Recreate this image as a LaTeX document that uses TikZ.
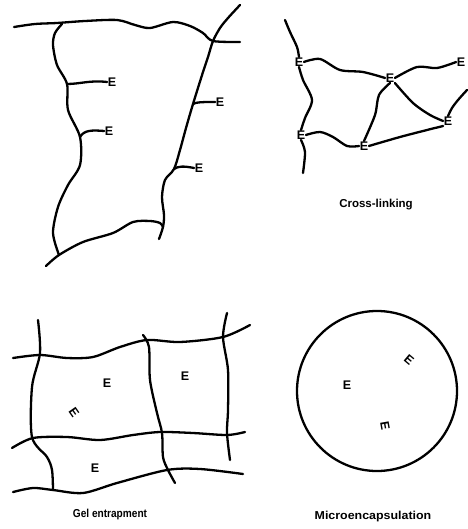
\documentclass[tikz,border=0pt]{standalone}
\usepackage{fontspec}
\newfontfamily\labfont{Liberation Sans}
\begin{document}
\begin{tikzpicture}[x=1pt,y=-1pt,
  fibre/.style={line width=2.3pt, line cap=round, line join=round},
  enz/.style={font=\labfont\bfseries\fontsize{12.5}{12.5}\selectfont, inner sep=0.5pt},
  captxt/.style={font=\labfont\bfseries\fontsize{11.5}{12}\selectfont, inner sep=0pt}]
\useasboundingbox (0,0) rectangle (467,529);

% ---------- Panel 1 ----------
\coordinate (p1a) at (67,84);
\coordinate (p1b) at (80,137);
\coordinate (p1c) at (193,104);
\coordinate (p1d) at (174,169);
\node[enz] (a1) at (112,82) {E};
\node[enz] (a2) at (109,131) {E};
\node[enz] (a3) at (220,102) {E};
\node[enz] (a4) at (199,168) {E};
\draw[fibre] plot[smooth] coordinates {(14,27) (35,24) (57,23) (85,21) (117,20) (135,25) (150,28) (173,22) (190,26) (203,33) (213,41) (240,42)};
\draw[fibre] plot[smooth] coordinates {(240,5) (228,18) (220,28) (213,41) (208,57) (203,72) (193,104) (186,128) (180,150) (174,169) (165,180) (162,197) (164,215) (163,227) (159,239)};
\draw[fibre] plot[smooth] coordinates {(62,24) (55,33) (53,45) (57,65) (67,84) (68,110) (80,137) (80,165) (68,185) (58,207) (53,233) (59,255)};
\draw[fibre] plot[smooth] coordinates {(46,266) (59,255) (83,242) (113,233) (133,222) (150,221) (160,223) (163,227)};
\draw[fibre] (p1a) .. controls (80,84) and (90,80) .. (a1.west);
\draw[fibre] (p1b) .. controls (84,130) and (92,130) .. (a2.west);
\draw[fibre] (p1c) .. controls (196,102) and (204,102) .. (a3.west);
\draw[fibre] (p1d) .. controls (178,166) and (184,166) .. (a4.west);

% ---------- Panel 2: Cross-linking ----------
\node[enz] (c1) at (299,62) {E};
\node[enz] (c2) at (301,135) {E};
\node[enz] (c3) at (390,78) {E};
\node[enz] (c4) at (461,62) {E};
\node[enz] (c5) at (448,121) {E};
\node[enz] (c6) at (364,146) {E};
\coordinate (c1t) at (285,20);
\coordinate (c2b) at (303,173);
\coordinate (c4r) at (467,90);
\draw[fibre] plot[smooth] coordinates {(c1t) (290,32) (297,47) (c1.north)};
\draw[fibre] plot[smooth] coordinates {(c1.south) (303,80) (312,100) (305,118) (c2.north)};
\draw[fibre] plot[smooth] coordinates {(c2.south) (305,152) (c2b)};
\draw[fibre] plot[smooth] coordinates {(c1.east) (320,59) (340,70) (363,72) (c3.west)};
\draw[fibre] plot[smooth] coordinates {(c3.east) (417,67) (437,68) (c4.west)};
\draw[fibre] plot[smooth] coordinates {(c4r) (458,100) (452,108) (c5.north)};
\draw[fibre] plot[smooth] coordinates {(c3.south east) (413,103) (430,115) (c5.west)};
\draw[fibre] plot[smooth] coordinates {(c3.south) (379,95) (375,115) (c6.north)};
\draw[fibre] plot[smooth] coordinates {(c2.east) (320,132) (333,137) (347,146) (c6.west)};
\draw[fibre] plot[smooth] coordinates {(c6.east) (400,137) (427,130) (c5.south west)};
\node[captxt] (t2) at (376,205) {Cross-linking};

% ---------- Panel 3: Gel entrapment ----------
\draw[fibre] plot[smooth] coordinates {(13,358) (40,355) (67,358) (93,357) (120,347) (147,340) (180,342) (223,337) (250,325)};
\draw[fibre] plot[smooth] coordinates {(12,448) (33,438) (67,437) (100,440) (133,435) (160,432) (193,433) (227,435) (245,432)};
\draw[fibre] plot[smooth] coordinates {(13,492) (33,488) (53,490) (83,493) (117,483) (167,470) (200,469) (243,474)};
\draw[fibre] plot[smooth] coordinates {(38,320) (40,353) (32,387) (32,437) (47,457) (52,470) (53,490)};
\draw[fibre] plot[smooth] coordinates {(143,335) (149,347) (150,380) (157,413) (162,433) (163,457) (168,470) (175,483)};
\draw[fibre] plot[smooth] coordinates {(227,313) (223,337) (228,370) (228,410) (227,433) (230,460)};
\node[enz] (g1) at (107,383) {E};
\node[enz, rotate=-55] (g2) at (74,412) {E};
\node[enz] (g3) at (185,376) {E};
\node[enz] (g4) at (95,468) {E};
\node[captxt, xscale=0.88] (t3) at (110,515) {Gel entrapment};

% ---------- Panel 4: Microencapsulation ----------
\node[draw, circle, line width=2.3pt, minimum size=160pt, inner sep=0pt] (cap4) at (377,391) {};
\node[enz] (m1) at (347,385) {E};
\node[enz, rotate=-40] (m2) at (409,360) {E};
\node[enz, rotate=-80] (m3) at (385,426) {E};
\node[captxt, xscale=1.08] (t4) at (373,517) {Microencapsulation};
\end{tikzpicture}
\end{document}
